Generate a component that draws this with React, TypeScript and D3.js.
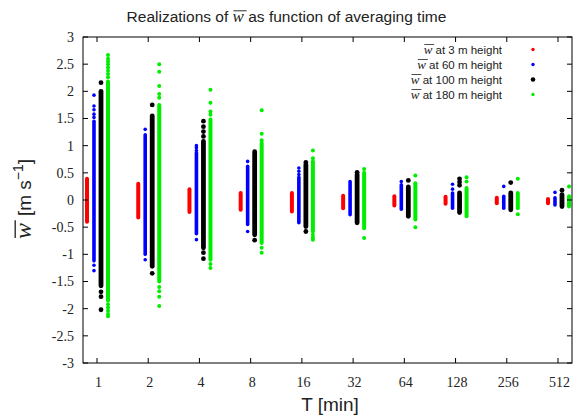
import React, { useLayoutEffect, useRef } from 'react';
import * as d3 from 'd3';

// averaging times [min]
const periods = [1, 2, 4, 8, 16, 32, 64, 128, 256, 512];
const xTickLabels = ['1', '2', '4', '8', '16', '32', '64', '128', '256', '512'];
const yTickValues = [-3, -2.5, -2, -1.5, -1, -0.5, 0, 0.5, 1, 1.5, 2, 2.5, 3];
const yTickLabels = ['-3', '-2.5', '-2', '-1.5', '-1', '-0.5', '0', '0.5', '1', '1.5', '2', '2.5', '3'];

// series: dense range of realizations (low / high) and isolated realizations
const seriesNames = ['at 3 m height', 'at 60 m height', 'at 100 m height', 'at 180 m height'];

const w3Low = [-0.4, -0.32, -0.22, -0.18, -0.21, -0.15, -0.1, -0.07, -0.06, -0.06];
const w3High = [0.39, 0.3, 0.2, 0.13, 0.13, 0.08, 0.07, 0.06, 0.04, 0.02];
const w3Extra: number[][] = [[], [], [], [], [], [], [], [], [], []];

const w60Low = [-1.12, -1.0, -0.62, -0.45, -0.42, -0.27, -0.17, -0.15, -0.15, -0.09];
const w60High = [1.45, 1.2, 0.87, 0.62, 0.42, 0.34, 0.28, 0.13, 0.07, 0.04];
const w60Extra: number[][] = [
  [1.93, 1.73, 1.66, 1.58, 1.52, -1.2, -1.3],
  [1.3, -1.1],
  [1.0, 0.96, 0.91, -0.73],
  [0.71, -0.58],
  [0.59, 0.53, 0.47],
  [],
  [0.34],
  [0.29, 0.2],
  [0.25],
  [0.14],
];

const w100Low = [-1.58, -1.22, -0.88, -0.64, -0.49, -0.42, -0.3, -0.23, -0.18, -0.12];
const w100High = [2.0, 1.55, 1.08, 0.89, 0.65, 0.47, 0.24, 0.13, 0.13, 0.1];
const w100Extra: number[][] = [
  [2.16, -1.69, -1.78, -2.02],
  [1.75, -1.35],
  [1.45, 1.35, 1.26, 1.17, -0.97, -1.08],
  [-0.74],
  [0.69, -0.58],
  [0.51],
  [0.36],
  [0.39, 0.33, 0.27],
  [0.32],
  [0.18],
];

const w180Low = [-1.85, -1.5, -1.1, -0.79, -0.58, -0.52, -0.36, -0.3, -0.15, -0.12];
const w180High = [2.18, 1.75, 1.48, 1.05, 0.71, 0.5, 0.31, 0.22, 0.13, 0.07];
const w180Extra: number[][] = [
  [2.67, 2.6, 2.55, 2.5, 2.44, 2.38, 2.32, 2.26, -1.92, -1.98, -2.04, -2.1, -2.14],
  [2.5, 2.36, 2.1, 1.95, 1.88, -1.6, -1.68, -1.78, -1.95],
  [2.03, 1.79, 1.63, 1.57, -1.18, -1.25],
  [1.65, 1.22, 1.1, -0.88, -0.97],
  [0.91, 0.77, -0.64, -0.69, -0.73],
  [0.57, -0.7],
  [0.45, -0.5],
  [0.42, 0.34],
  [0.39, -0.26],
  [0.25],
];

const W = 573;
const H = 419;
const margin = { left: 83, right: 572, top: 37, bottom: 363 };
const SANS = '"Liberation Sans", Arial, sans-serif';
const SERIF = '"Liberation Serif", "Times New Roman", serif';

const series = [
  { low: w3Low, high: w3High, extra: w3Extra, color: '#ff0000', d: 4, off: -0.195, lr: 1.7 },
  { low: w60Low, high: w60High, extra: w60Extra, color: '#0000ff', d: 3.6, off: -0.059, lr: 1.7 },
  { low: w100Low, high: w100High, extra: w100Extra, color: '#000000', d: 4.8, off: 0.078, lr: 2.3 },
  { low: w180Low, high: w180High, extra: w180Extra, color: '#00ee00', d: 4, off: 0.215, lr: 1.7 },
];

const x = d3.scaleLinear().domain([0, 9]).range([97, 558]);
const y = d3.scaleLinear().domain([-3, 3]).range([margin.bottom, margin.top]);

function WBar({ size }: { size: number }) {
  return (
    <tspan className="wbar" fontFamily={SERIF} fontStyle="italic" fontSize={size}>
      w
    </tspan>
  );
}

export default function App() {
  const ref = useRef<SVGSVGElement>(null);
  const tickLen = 5;

  useLayoutEffect(() => {
    const svg = d3.select(ref.current);
    svg.selectAll('line.overline').remove();
    svg.selectAll<SVGTSpanElement, unknown>('tspan.wbar').each(function () {
      const bb = this.getBBox();
      const g = this.parentNode!.parentNode as SVGGElement;
      const fs = parseFloat(this.getAttribute('font-size') || '14');
      d3.select(g)
        .append('line')
        .attr('class', 'overline')
        .attr('x1', bb.x + fs * 0.05)
        .attr('x2', bb.x + bb.width + fs * 0.12)
        .attr('y1', bb.y + bb.height * 0.2)
        .attr('y2', bb.y + bb.height * 0.2)
        .attr('stroke', '#222')
        .attr('stroke-width', Math.max(0.8, fs / 18));
    });
  }, []);

  return (
    <svg ref={ref} width={W} height={H} style={{ position: 'absolute', left: 0, top: 0, background: '#fff' }}>
      <rect x={0} y={0} width={W} height={H} fill="#fff" />
      {/* title */}
      <g>
        <text x={286.5} y={22} textAnchor="middle" fontFamily={SANS} fontSize={15.5} fill="#222">
          Realizations of <WBar size={17} /> as function of averaging time
        </text>
      </g>

      {/* data */}
      {series.map((s, si) => (
        <g key={si}>
          {periods.map((T, i) => {
            const cx = x(Math.log2(T) + s.off);
            return (
              <g key={i}>
                <line
                  x1={cx}
                  x2={cx}
                  y1={y(s.low[i])}
                  y2={y(s.high[i])}
                  stroke={s.color}
                  strokeWidth={s.d}
                  strokeLinecap="round"
                />
                {s.extra[i].map((v, k) => (
                  <circle key={k} cx={cx} cy={y(v)} r={s.d / 2} fill={s.color} />
                ))}
              </g>
            );
          })}
        </g>
      ))}

      {/* frame */}
      <rect
        x={margin.left}
        y={margin.top}
        width={margin.right - margin.left}
        height={margin.bottom - margin.top}
        fill="none"
        stroke="#000"
        strokeWidth={1}
      />
      {/* y ticks */}
      {yTickValues.map((v, i) => (
        <g key={i}>
          <line x1={margin.left} x2={margin.left + tickLen} y1={y(v)} y2={y(v)} stroke="#000" />
          <line x1={margin.right} x2={margin.right - tickLen} y1={y(v)} y2={y(v)} stroke="#000" />
          <text x={74} y={y(v)} dy="0.35em" textAnchor="end" fontFamily={SERIF} fontSize={14} fill="#222">
            {yTickLabels[i]}
          </text>
        </g>
      ))}
      {/* x ticks */}
      {periods.map((T, i) => (
        <g key={i}>
          <line x1={x(Math.log2(T))} x2={x(Math.log2(T))} y1={margin.bottom} y2={margin.bottom - tickLen} stroke="#000" />
          <line x1={x(Math.log2(T))} x2={x(Math.log2(T))} y1={margin.top} y2={margin.top + tickLen} stroke="#000" />
          <text x={x(Math.log2(T)) + 1.5} y={387} textAnchor="middle" fontFamily={SERIF} fontSize={14} fill="#222">
            {xTickLabels[i]}
          </text>
        </g>
      ))}

      {/* axis labels */}
      <text x={330} y={411} textAnchor="middle" fontFamily={SANS} fontSize={19} fill="#222">
        T [min]
      </text>
      <g transform="translate(31,199) rotate(-90)">
        <text x={0} y={0} textAnchor="middle" fontFamily={SANS} fontSize={19} fill="#222">
          <WBar size={24} />
          <tspan dx={7}>[m s</tspan>
          <tspan dy={-8} fontSize={14}>−1</tspan>
          <tspan dy={8}>]</tspan>
        </text>
      </g>

      {/* legend */}
      {series.map((s, i) => {
        const cy = 49.5 + i * 15;
        return (
          <g key={i}>
            <text x={502} y={cy + 4} textAnchor="end" fontFamily={SANS} fontSize={11.5} fill="#222">
              <WBar size={13} /> {seriesNames[i]}
            </text>
            <circle cx={533} cy={cy} r={s.lr} fill={s.color} />
          </g>
        );
      })}
    </svg>
  );
}
